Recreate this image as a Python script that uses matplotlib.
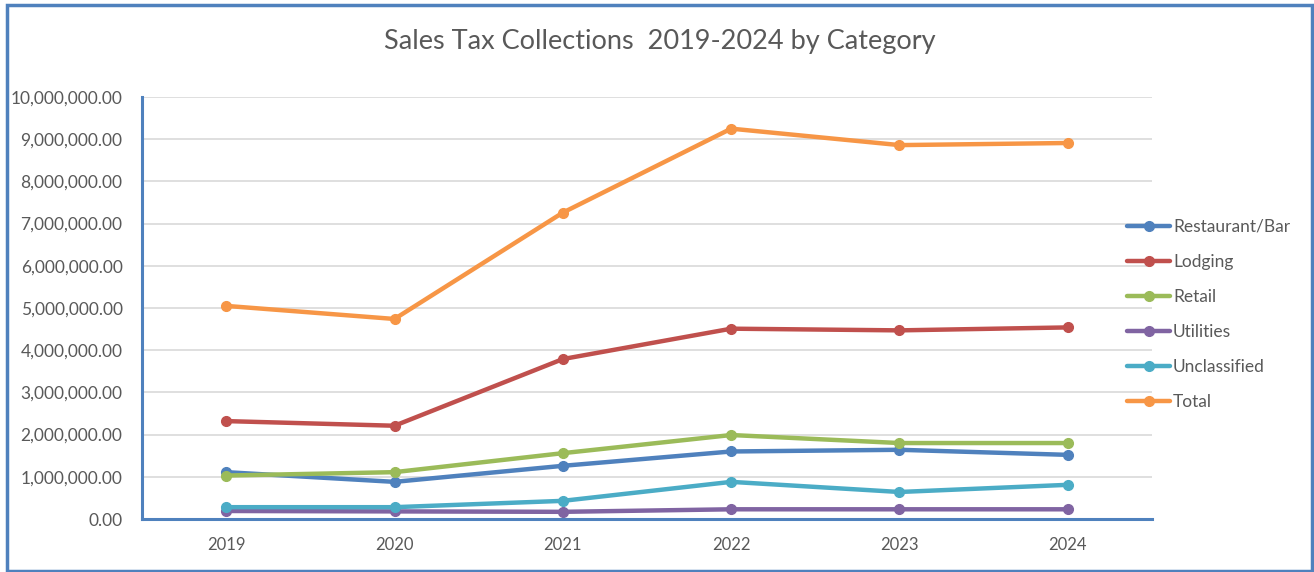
import matplotlib
matplotlib.use("Agg")
import matplotlib.pyplot as plt
from matplotlib.patches import Rectangle
from matplotlib.ticker import FuncFormatter

years = ["2019", "2020", "2021", "2022", "2023", "2024"]
restaurant = [1110000, 880000, 1260000, 1600000, 1640000, 1520000]
lodging = [2320000, 2210000, 3790000, 4510000, 4470000, 4540000]
retail = [1030000, 1110000, 1560000, 1990000, 1800000, 1800000]
utilities = [190000, 180000, 170000, 230000, 230000, 230000]
unclassified = [280000, 280000, 430000, 880000, 640000, 810000]
total = [5050000, 4740000, 7260000, 9250000, 8860000, 8910000]

series = [
    ("Restaurant/Bar", restaurant, "#4F81BD"),
    ("Lodging", lodging, "#C0504D"),
    ("Retail", retail, "#9BBB59"),
    ("Utilities", utilities, "#8064A2"),
    ("Unclassified", unclassified, "#4BACC6"),
    ("Total", total, "#F79646"),
]

plt.rcParams['font.family'] = ['Lato', 'DejaVu Sans']
txt = '#595959'

fig = plt.figure(figsize=(13.14, 5.72), dpi=100)
ax = fig.add_axes([142/1314, 1 - 519/572, 1010/1314, (519 - 97)/572])

x = list(range(len(years)))
for name, vals, col in series:
    ax.plot(x, vals, color=col, lw=3.2, marker='o', ms=7, label=name,
            solid_capstyle='round', solid_joinstyle='round')

ax.set_xlim(-0.5, len(years) - 0.5)
ax.set_ylim(0, 10000000)
ax.set_yticks(range(0, 10000001, 1000000))
ax.yaxis.set_major_formatter(FuncFormatter(lambda v, p: '{:,.2f}'.format(v)))
ax.set_xticks(x)
ax.set_xticklabels(years)
ax.grid(axis='y', color='#D9D9D9', lw=1.2)
ax.set_axisbelow(True)
for s in ['top', 'right']:
    ax.spines[s].set_visible(False)
ax.spines['left'].set_color('#4F81BD')
ax.spines['left'].set_linewidth(2.2)
ax.spines['bottom'].set_color('#4F81BD')
ax.spines['bottom'].set_linewidth(2.2)
ax.tick_params(axis='y', length=0, pad=14, labelsize=12.5, labelcolor=txt)
ax.tick_params(axis='x', length=0, pad=13, labelsize=12, labelcolor=txt)

fig.text(660/1314, 1 - 42/572, "Sales Tax Collections  2019-2024 by Category",
         ha='center', va='center', fontsize=19.5, color=txt)

fig.legend(loc='upper left', bbox_to_anchor=(1120/1314, 1 - 212/572), frameon=False,
           fontsize=12.5, labelcolor=txt, handlelength=2.5, handletextpad=0.15,
           labelspacing=1.1, borderaxespad=0)

fig.patches.append(Rectangle((7/1314, 1/572), 1 - 9/1314, 1 - 6/572,
                             transform=fig.transFigure, fill=False,
                             edgecolor='#4F81BD', lw=2.5))

fig.savefig("out.png", dpi=100)
